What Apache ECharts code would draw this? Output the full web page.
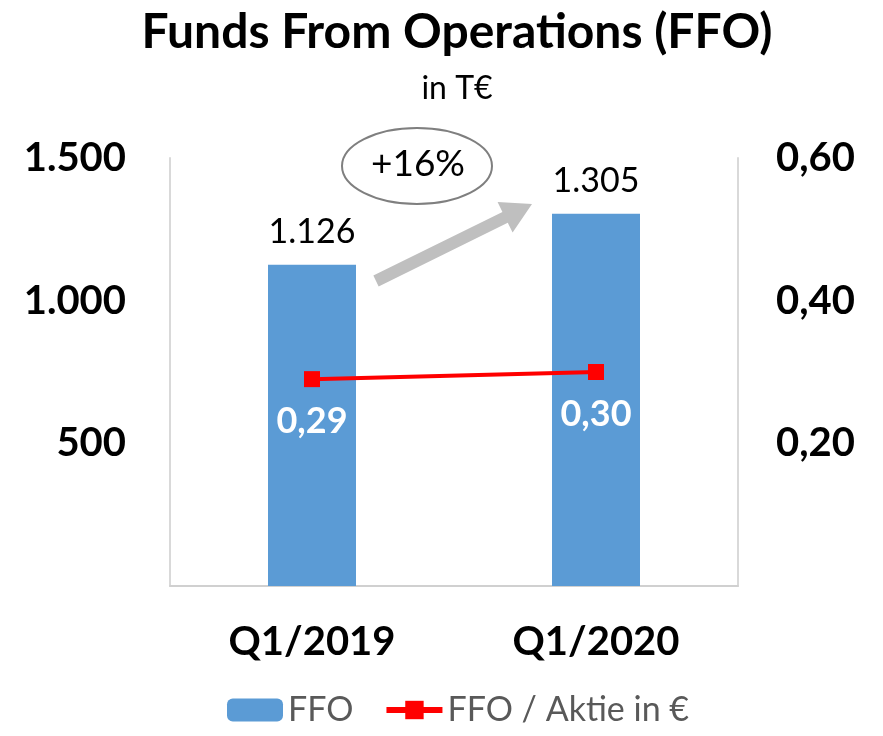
<!DOCTYPE html>
<html>
<head>
<meta charset="utf-8">
<script src="https://cdn.jsdelivr.net/npm/echarts@6/dist/echarts.min.js"></script>
<style>
  html, body { margin: 0; padding: 0; background: #fff; }
  #chart { width: 883px; height: 736px; }
</style>
</head>
<body>
<div id="chart"></div>
<script>
const categories = ['Q1/2019', 'Q1/2020'];
const ffoValues = [1126, 1305];
const ffoPerShare = [0.29, 0.30];
const growthLabel = '+16%';

const FONT = 'Lato, "Open Sans", sans-serif';

const thousands = v => String(Math.round(v)).replace(/\B(?=(\d{3})+(?!\d))/g, '.');
const comma2 = v => v.toFixed(2).replace('.', ',');

// grey arrow polygon from tail to tip
function arrowPoints(x1, y1, x2, y2, shaftHalf, headHalf, headLen) {
  const dx = x2 - x1, dy = y2 - y1;
  const len = Math.sqrt(dx * dx + dy * dy);
  const ux = dx / len, uy = dy / len;
  const nx = -uy, ny = ux;
  const bx = x2 - ux * headLen, by = y2 - uy * headLen;
  return [
    [x1 + nx * shaftHalf, y1 + ny * shaftHalf],
    [bx + nx * shaftHalf, by + ny * shaftHalf],
    [bx + nx * headHalf, by + ny * headHalf],
    [x2, y2],
    [bx - nx * headHalf, by - ny * headHalf],
    [bx - nx * shaftHalf, by - ny * shaftHalf],
    [x1 - nx * shaftHalf, y1 - ny * shaftHalf]
  ];
}

const chart = echarts.init(document.getElementById('chart'));
chart.setOption({
  backgroundColor: '#fff',
  animation: false,
  title: {
    text: 'Funds From Operations (FFO)',
    subtext: 'in T€',
    left: 452,
    textAlign: 'center',
    top: 4,
    itemGap: 16,
    textStyle: { fontFamily: FONT, fontSize: 48, fontWeight: 'bold', color: '#000' },
    subtextStyle: { fontFamily: FONT, fontSize: 32, color: '#000' }
  },
  legend: {
    bottom: 4,
    left: 222,
    itemWidth: 56,
    itemHeight: 23,
    itemGap: 30,
    textStyle: { fontFamily: FONT, fontSize: 34, color: '#595959' },
    data: [
      { name: 'FFO' },
      { name: 'FFO / Aktie in €', lineStyle: { width: 6 } }
    ]
  },
  grid: { left: 170, right: 145, top: 158, bottom: 150 },
  xAxis: {
    type: 'category',
    data: categories,
    axisLine: { lineStyle: { color: '#d0d0d0', width: 2 } },
    axisTick: { show: false },
    axisLabel: { fontFamily: FONT, fontSize: 40, fontWeight: 'bold', color: '#000', margin: 36 }
  },
  yAxis: [
    {
      type: 'value', min: 0, max: 1500, interval: 500,
      splitLine: { show: false },
      axisLine: { show: true, lineStyle: { color: '#d9d9d9', width: 2 } },
      axisTick: { show: false },
      axisLabel: {
        showMinLabel: false, margin: 44, formatter: thousands,
        fontFamily: FONT, fontSize: 40, fontWeight: 'bold', color: '#000'
      }
    },
    {
      type: 'value', min: 0, max: 0.6, interval: 0.2,
      splitLine: { show: false },
      axisLine: { show: true, lineStyle: { color: '#d9d9d9', width: 2 } },
      axisTick: { show: false },
      axisLabel: {
        showMinLabel: false, margin: 38, formatter: comma2,
        fontFamily: FONT, fontSize: 40, fontWeight: 'bold', color: '#000'
      }
    }
  ],
  series: [
    {
      name: 'FFO',
      type: 'bar',
      data: ffoValues,
      barWidth: 88,
      itemStyle: { color: '#5b9bd5' },
      label: {
        show: true, position: 'top', distance: 16,
        formatter: p => thousands(p.value),
        fontFamily: FONT, fontSize: 34, color: '#000'
      }
    },
    {
      name: 'FFO / Aktie in €',
      type: 'line',
      yAxisIndex: 1,
      data: ffoPerShare,
      symbol: 'rect',
      symbolSize: 16,
      lineStyle: { color: '#ff0000', width: 4 },
      itemStyle: { color: '#ff0000' },
      label: {
        show: true, position: 'bottom', distance: 16,
        formatter: p => comma2(p.value),
        fontFamily: FONT, fontSize: 36, fontWeight: 'bold', color: '#fff'
      },
      z: 5
    }
  ],
  graphic: [
    {
      type: 'polygon',
      shape: { points: arrowPoints(376, 281, 532, 204, 6, 17, 30) },
      style: { fill: '#bfbfbf' },
      z: 10
    },
    {
      type: 'ellipse',
      shape: { cx: 417, cy: 166, rx: 75, ry: 38 },
      style: { fill: '#fff', stroke: '#7f7f7f', lineWidth: 2 },
      z: 10
    },
    {
      type: 'text',
      x: 418, y: 164,
      style: {
        text: growthLabel, fontFamily: FONT, fontSize: 37, fill: '#000',
        align: 'center', verticalAlign: 'middle'
      },
      z: 11
    }
  ]
});
</script>
</body>
</html>
